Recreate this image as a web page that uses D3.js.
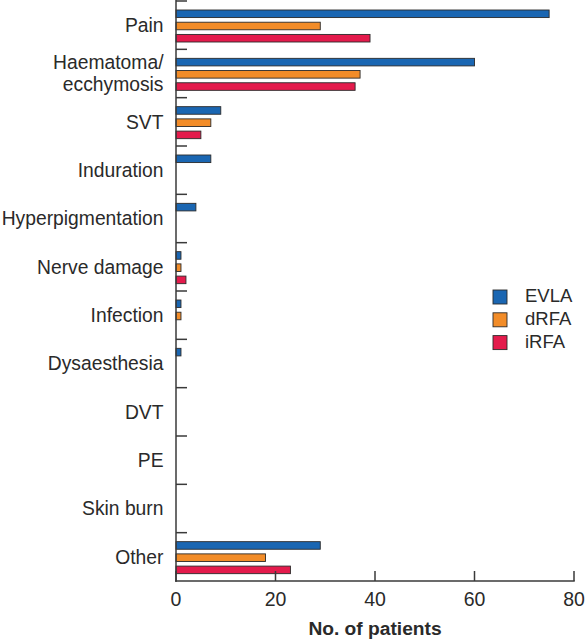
<!DOCTYPE html>
<html><head><meta charset="utf-8">
<script src="https://cdn.jsdelivr.net/npm/d3@7"></script>
<style>body{margin:0;background:#fff}svg{display:block}text{font-family:"Liberation Sans",Arial,Helvetica,sans-serif;fill:#2a2a2a}</style>
</head><body>
<script>
const categories = ["Pain","Haematoma/\necchymosis","SVT","Induration","Hyperpigmentation","Nerve damage","Infection","Dysaesthesia","DVT","PE","Skin burn","Other"];
const seriesNames = ["EVLA","dRFA","iRFA"];
const evla = [75,60,9,7,4,1,1,1,0,0,0,29];
const drfa = [29,37,7,0,0,1,1,0,0,0,0,18];
const irfa = [39,36,5,0,0,2,0,0,0,0,0,23];
const xTicks = [0,20,40,60,80];
const colors = ["#1a66b2","#f28c28","#e41b4c"];

const W=586,H=641;
const svg=d3.select("body").append("svg").attr("width",W).attr("height",H);
const x=d3.scaleLinear().domain([0,80]).range([176,574]);
const y=d3.scaleBand().domain(d3.range(categories.length)).range([1,581]);
const sub=d3.scaleBand().domain([0,1,2]).range([9,41]).paddingInner(0.38);
const series=[evla,drfa,irfa];

series.forEach((vals,s)=>{
  svg.append("g").selectAll("rect").data(vals.map((v,i)=>({v,i})).filter(d=>d.v>0)).join("rect")
    .attr("x",x(0)).attr("y",d=>y(d.i)+sub(s)).attr("width",d=>x(d.v)-x(0)).attr("height",sub.bandwidth())
    .attr("fill",colors[s]).attr("stroke","#2b2b2b").attr("stroke-width",0.9);
});

const ax="#3a3a3a";
svg.append("line").attr("x1",x(0)).attr("x2",x(0)).attr("y1",0).attr("y2",582).attr("stroke",ax).attr("stroke-width",1.5);
svg.append("g").selectAll("line").data(d3.range(categories.length)).join("line")
  .attr("x1",x(0)).attr("x2",x(0)+11).attr("y1",d=>y(d)).attr("y2",d=>y(d)).attr("stroke",ax).attr("stroke-width",1.5);
const lab=svg.append("g");
categories.forEach((c,i)=>{
  const lines=c.split("\n");
  const cy=y(i)+y.bandwidth()/2;
  const lh=22;
  const t=lab.append("text").attr("text-anchor","end").attr("font-size",19.3);
  lines.forEach((l,j)=>{
    t.append("tspan").attr("x",163.5).attr("y",cy+(j-(lines.length-1)/2)*lh).attr("dy","0.35em").text(l);
  });
});

svg.append("line").attr("x1",x(0)-0.75).attr("x2",x(80)+0.75).attr("y1",581).attr("y2",581).attr("stroke",ax).attr("stroke-width",1.5);
svg.append("g").selectAll("line").data(xTicks).join("line")
  .attr("x1",d=>x(d)).attr("x2",d=>x(d)).attr("y1",581).attr("y2",571).attr("stroke",ax).attr("stroke-width",1.5);
svg.append("g").selectAll("text").data(xTicks).join("text")
  .attr("x",d=>x(d)).attr("y",606).attr("text-anchor","middle").attr("font-size",19.5).text(d=>d);
svg.append("text").attr("x",375).attr("y",635).attr("text-anchor","middle")
  .attr("font-size",19.2).attr("font-weight","bold").text("No. of patients");

const lg=svg.append("g");
seriesNames.forEach((n,i)=>{
  const yy=290+i*22.8;
  lg.append("rect").attr("x",493).attr("y",yy).attr("width",14).attr("height",14).attr("fill",colors[i]).attr("stroke","#2b2b2b").attr("stroke-width",0.9);
  lg.append("text").attr("x",525).attr("y",yy+12).attr("font-size",18.5).text(n);
});
</script>
</body></html>
